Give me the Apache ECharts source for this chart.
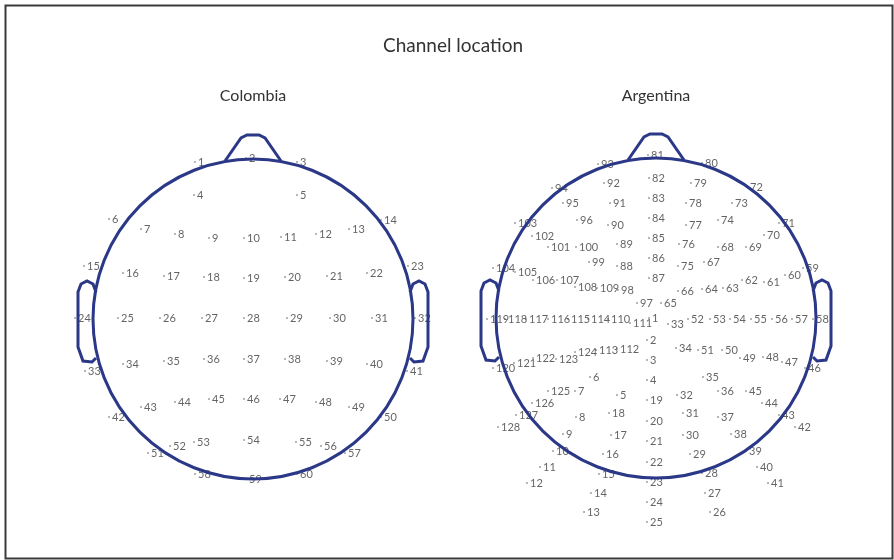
<!DOCTYPE html>
<html>
<head>
<meta charset="utf-8">
<title>Channel location</title>
<script src="https://cdn.jsdelivr.net/npm/echarts@6/dist/echarts.min.js"></script>
<style>
  html, body { margin: 0; padding: 0; background: #fff; }
  #main { width: 894px; height: 560px; }
</style>
</head>
<body>
<div id="main"></div>
<script>
// channel positions, in head units (head radius = 160, y up)
const colombiaChannels = [
  1, 2, 3, 4, 5, 6, 7, 8, 9, 10, 11, 12, 13, 14, 15, 16, 17, 18, 19, 20,
  21, 22, 23, 24, 25, 26, 27, 28, 29, 30, 31, 32, 33, 34, 35, 36, 37, 38, 39, 40,
  41, 42, 43, 44, 45, 46, 47, 48, 49, 50, 51, 52, 53, 54, 55, 56, 57, 58, 59, 60
];
const colombiaX = [
  -58, -7, 44, -59, 44, -144, -112, -78, -44, -9,
  28, 63, 96, 128, -169, -130, -89, -49, -9, 32,
  74, 114, 155, -178, -135, -93, -51, -9, 34, 77,
  119, 162, -168, -130, -89, -49, -9, 32, 74, 114,
  154, -144, -112, -78, -44, -9, 27, 63, 96, 128,
  -105, -83, -59, -9, 43, 68, 92, -58, -7, 44
];
const colombiaY = [
  157, 161, 157, 124, 124, 100, 90, 85, 81, 81,
  82, 85, 90, 99, 53, 46, 43, 42, 41, 42,
  43, 46, 53, 1, 1, 1, 1, 1, 1, 1,
  1, 1, -52, -45, -42, -40, -40, -40, -42, -45,
  -52, -98, -88, -83, -80, -80, -80, -83, -88, -98,
  -134, -127, -123, -121, -123, -127, -134, -155, -160, -155
];

const argentinaChannels = [
  1, 2, 3, 4, 5, 6, 7, 8, 9, 10, 11, 12, 13, 14, 15, 16, 17, 18, 19, 20,
  21, 22, 23, 24, 25, 26, 27, 28, 29, 30, 31, 32, 33, 34, 35, 36, 37, 38, 39, 40,
  41, 42, 43, 44, 45, 46, 47, 48, 49, 50, 51, 52, 53, 54, 55, 56, 57, 58, 59, 60,
  61, 62, 63, 64, 65, 66, 67, 68, 69, 70, 71, 72, 73, 74, 75, 76, 77, 78, 79, 80,
  81, 82, 83, 84, 85, 86, 87, 88, 89, 90, 91, 92, 93, 94, 95, 96, 97, 98, 99, 100,
  101, 102, 103, 104, 105, 106, 107, 108, 109, 110, 111, 112, 113, 114, 115, 116, 117, 118, 119, 120,
  121, 122, 123, 124, 125, 126, 127, 128
];
const argentinaX = [
  -7, -9, -9, -9, -39, -66, -81, -80, -93, -103,
  -116, -129, -72, -65, -57, -53, -45, -47, -9, -9,
  -9, -9, -9, -9, -9, 54, 49, 46, 34, 27,
  27, 21, 12, 20, 47, 62, 62, 75, 90, 101,
  112, 139, 123, 106, 90, 149, 126, 107, 84, 66,
  42, 32, 54, 74, 95, 116, 136, 157, 147, 129,
  108, 86, 67, 46, 5, 22, 48, 62, 90, 108,
  123, 91, 76, 62, 22, 23, 30, 30, 35, 46,
  -8, -7, -7, -7, -7, -7, -7, -39, -39, -48,
  -46, -52, -58, -104, -93, -79, -19, -38, -67, -80,
  -108, -124, -141, -163, -141, -123, -99, -81, -59, -48,
  -26, -39, -60, -68, -88, -108, -130, -151, -169, -163,
  -142, -123, -100, -81, -108, -124, -140, -158
];
const argentinaY = [
  0, -22, -42, -62, -77, -59, -73, -99, -116, -133,
  -149, -165, -194, -175, -156, -136, -117, -95, -82, -103,
  -123, -144, -164, -184, -204, -194, -175, -155, -136, -117,
  -95, -77, -6, -30, -59, -73, -99, -116, -133, -149,
  -165, -109, -97, -85, -73, -50, -44, -39, -40, -32,
  -32, -1, -1, -1, -1, -1, -1, -1, 50, 43,
  36, 38, 30, 29, 15, 27, 56, 71, 71, 83,
  95, 131, 115, 98, 52, 74, 93, 115, 135, 155,
  163, 140, 120, 100, 80, 60, 40, 52, 74, 93,
  115, 135, 154, 130, 115, 98, 15, 28, 56, 71,
  71, 82, 95, 50, 46, 38, 38, 31, 30, -1,
  -5, -31, -32, -1, -1, -1, -1, -1, -1, -50,
  -45, -40, -41, -34, -73, -85, -97, -109
];

// head outline (same units)
const HEAD_R = 160;
const NOSE = [[-28, 158], [-12, 181], [-6, 184], [6, 184], [12, 181], [28, 158]];
const EAR_L = [[-157, 27], [-160, 35], [-166, 38], [-172, 35], [-175, 27],
  [-175, -28], [-170, -42], [-161, -43], [-157, -39]];
const EAR_R = EAR_L.map(p => [-p[0], p[1]]);

const chart = echarts.init(document.getElementById('main'));

const outline = { stroke: '#2b3888', lineWidth: 3, fill: null };

function renderHead(params, api) {
  const c = api.coord([0, 0]);
  const r = api.size([HEAD_R, 0])[0];
  const pts = arr => arr.map(p => api.coord(p));
  return {
    type: 'group',
    children: [
      { type: 'circle', shape: { cx: c[0], cy: c[1], r: r }, style: outline },
      { type: 'polyline', shape: { points: pts(NOSE) }, style: outline },
      { type: 'polyline', shape: { points: pts(EAR_L) }, style: outline },
      { type: 'polyline', shape: { points: pts(EAR_R) }, style: outline }
    ]
  };
}

function channelSeries(idx, names, xs, ys) {
  return {
    type: 'scatter',
    xAxisIndex: idx,
    yAxisIndex: idx,
    z: 2,
    symbol: 'circle',
    symbolSize: 2,
    itemStyle: { color: '#888' },
    label: {
      show: true,
      position: 'right',
      distance: 2,
      formatter: p => p.value[2],
      color: '#3d3d3d',
      fontSize: 11,
      fontFamily: 'Lato'
    },
    silent: true,
    data: xs.map((x, i) => [x, ys[i], names[i]])
  };
}

function headSeries(idx) {
  return {
    type: 'custom',
    xAxisIndex: idx,
    yAxisIndex: idx,
    z: 3,
    silent: true,
    renderItem: renderHead,
    data: [[0, 0]]
  };
}

const axisX = { type: 'value', min: -200, max: 200, show: false };
const axisY = { type: 'value', min: -215, max: 215, show: false };

chart.setOption({
  animation: false,
  backgroundColor: '#fff',
  textStyle: { fontFamily: 'Lato' },
  grid: [
    { left: 53, top: 104, width: 400, height: 430 },
    { left: 456, top: 103, width: 400, height: 430 }
  ],
  xAxis: [Object.assign({ gridIndex: 0 }, axisX), Object.assign({ gridIndex: 1 }, axisX)],
  yAxis: [Object.assign({ gridIndex: 0 }, axisY), Object.assign({ gridIndex: 1 }, axisY)],
  graphic: [
    {
      type: 'rect', left: 3, top: 3, z: 0,
      shape: { width: 887, height: 553 },
      style: { fill: null, stroke: '#3a3a3a', lineWidth: 2 }
    },
    {
      type: 'text', x: 453, y: 46,
      style: { text: 'Channel location', textAlign: 'center', textVerticalAlign: 'middle',
        font: '19px Lato', fill: '#333' }
    },
    {
      type: 'text', x: 253, y: 96,
      style: { text: 'Colombia', textAlign: 'center', textVerticalAlign: 'middle',
        font: '16px Lato', fill: '#333' }
    },
    {
      type: 'text', x: 656, y: 96,
      style: { text: 'Argentina', textAlign: 'center', textVerticalAlign: 'middle',
        font: '16px Lato', fill: '#333' }
    }
  ],
  series: [
    channelSeries(0, colombiaChannels, colombiaX, colombiaY),
    headSeries(0),
    channelSeries(1, argentinaChannels, argentinaX, argentinaY),
    headSeries(1)
  ]
});
</script>
</body>
</html>
